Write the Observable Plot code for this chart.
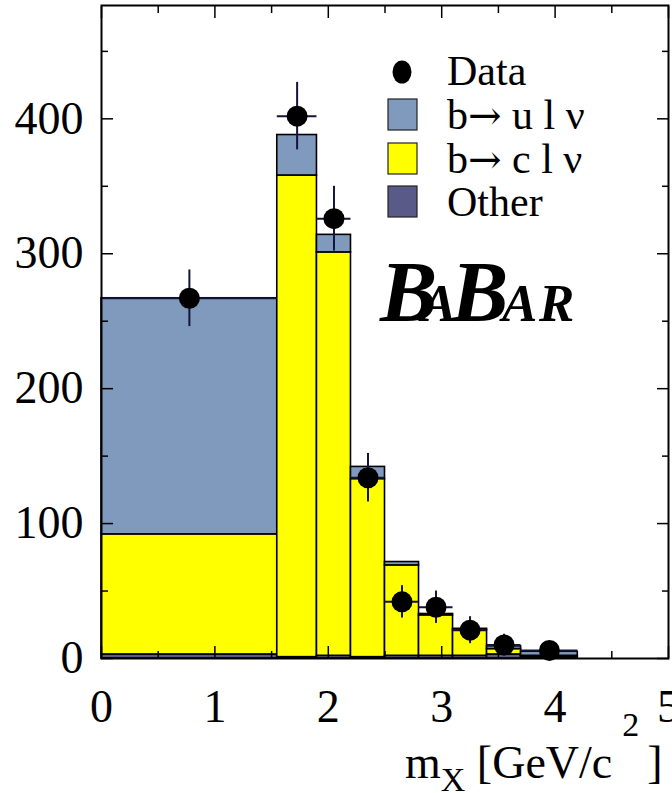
<!DOCTYPE html>
<html><head><meta charset="utf-8">
<script src="https://cdn.jsdelivr.net/npm/d3@7"></script>
<script src="https://cdn.jsdelivr.net/npm/@observablehq/plot@0.6"></script>
<style>html,body{margin:0;padding:0;background:#fff;overflow:hidden} svg{display:block}</style>
</head><body><div id="chart"></div>
<script>
// bins of m_X [GeV/c^2]
const binLo = [0, 1.55, 1.9, 2.2, 2.5, 2.8, 3.1, 3.4, 3.7];
const binHi = [1.55, 1.9, 2.2, 2.5, 2.8, 3.1, 3.4, 3.7, 4.2];
// stacked components (bottom to top)
const other = [3, 1, 2, 1, 2, 2, 2, 3, 1];
const bToC  = [89, 357, 299, 132, 67, 30, 19, 4, 1];
const bToU  = [175, 30, 13, 9, 2.5, 1, 1, 2, 3];
// data points
const dataY   = [267, 402, 326, 134, 42, 38, 21, 10, 6];
const dataErr = [21, 25, 24, 18, 12, 12, 10, 8, 6];
// ticks
const xTicks = [0, 1, 2, 3, 4, 5];
const xMinor = [0.5, 1.5, 2.5, 3.5, 4.5];
const yTicks = [0, 100, 200, 300, 400];
const yMinor = [50, 150, 250, 350, 450];
const seriesNames = ["Other", "b\u2192 c l \u03bd", "b\u2192 u l \u03bd"];
const seriesColors = ["#5a5a88", "#ffff00", "#7f9abc"];
const legendOrder = ["Data", "b\u2192 u l \u03bd", "b\u2192 c l \u03bd", "Other"];

const comps = [other, bToC, bToU];
const rects = [];
binLo.forEach((lo, i) => {
  let cum = 0;
  comps.forEach((arr, k) => {
    rects.push({x1: lo, x2: binHi[i], y1: cum, y2: cum + arr[i], s: seriesNames[k]});
    cum += arr[i];
  });
});
const points = binLo.map((lo, i) => ({x: (lo + binHi[i]) / 2, x1: lo, x2: binHi[i], y: dataY[i], e: dataErr[i]}));

const serif = "'Liberation Serif', 'Times New Roman', serif";
const noText = () => "";
const intFmt = d3.format("d");
const plot = Plot.plot({
  width: 672, height: 793,
  marginLeft: 101, marginRight: 4, marginTop: 5, marginBottom: 135,
  style: {fontFamily: serif, background: "white"},
  x: {domain: [0, 5]},
  y: {domain: [0, 484]},
  color: {domain: seriesNames, range: seriesColors},
  marks: [
    Plot.rect(rects, {x1: "x1", x2: "x2", y1: "y1", y2: "y2", fill: "s", stroke: "black", strokeWidth: 1.6}),
    Plot.ruleX(points, {x: "x", y1: d => d.y - d.e, y2: d => d.y + d.e, stroke: "#14143a", strokeWidth: 2}),
    Plot.ruleY(points, {y: "y", x1: "x1", x2: "x2", stroke: "#14143a", strokeWidth: 2}),
    Plot.dot(points, {x: "x", y: "y", r: 10.5, fill: "black"}),
    Plot.frame({stroke: "black", strokeWidth: 2}),
    Plot.axisY({ticks: yTicks, tickSize: 0, tickPadding: 18, fontSize: 46, tickFormat: intFmt, label: null}),
    Plot.axisY({ticks: yTicks, tickSize: -12, tickFormat: noText, label: null, strokeWidth: 1.5}),
    Plot.axisY({ticks: yMinor, tickSize: -7, tickFormat: noText, label: null, strokeWidth: 1.5}),
    Plot.axisY({anchor: "right", ticks: yTicks, tickSize: -12, tickFormat: noText, label: null, strokeWidth: 1.5}),
    Plot.axisY({anchor: "right", ticks: yMinor, tickSize: -7, tickFormat: noText, label: null, strokeWidth: 1.5}),
    Plot.axisX({ticks: xTicks, tickSize: 0, tickPadding: 31, fontSize: 46, tickFormat: intFmt, label: null}),
    Plot.axisX({ticks: xTicks, tickSize: -12, tickFormat: noText, label: null, strokeWidth: 1.5}),
    Plot.axisX({ticks: xMinor, tickSize: -7, tickFormat: noText, label: null, strokeWidth: 1.5}),
    Plot.axisX({anchor: "top", ticks: xTicks, tickSize: -12, tickFormat: noText, label: null, strokeWidth: 1.5}),
    Plot.axisX({anchor: "top", ticks: xMinor, tickSize: -7, tickFormat: noText, label: null, strokeWidth: 1.5})
  ]
});
document.getElementById("chart").appendChild(plot);

const svg = d3.select(plot);
// legend
const lg = svg.append("g").attr("font-family", serif).attr("font-size", 42)
  .attr("fill", "black").attr("text-anchor", "start");
const rowBase = [85, 129, 173, 216];
legendOrder.forEach((name, i) => {
  const b = rowBase[i];
  if (name === "Data") {
    lg.append("ellipse").attr("cx", 402).attr("cy", b - 13).attr("rx", 9.5).attr("ry", 11.5).attr("fill", "black");
  } else {
    const c = seriesColors[seriesNames.indexOf(name)];
    lg.append("rect").attr("x", 388).attr("y", b - 30).attr("width", 29).attr("height", 31)
      .attr("fill", c).attr("stroke", "#222").attr("stroke-width", 1.2);
  }
  const t = lg.append("text").attr("x", 447).attr("y", b);
  if (name.includes("\u2192")) {
    const [pre, post] = name.split("\u2192");
    t.append("tspan").text(pre);
    t.append("tspan").attr("font-family", "'DejaVu Serif', serif").attr("font-size", 40).text("\u2192");
    t.append("tspan").text(post);
  } else {
    t.text(name);
  }
});

// BaBar logo
const logo = svg.append("text").attr("y", 321).attr("font-family", serif).attr("text-anchor", "start")
  .attr("font-weight", "bold").attr("font-style", "italic").attr("fill", "black");
[["B", 380, 86], ["A", 421, 53], ["B", 451, 86], ["A", 502, 53], ["R", 539, 53]].forEach(([t, x, fs]) => {
  logo.append("tspan").attr("x", x).attr("font-size", fs).text(t);
});

// axis title
const at = svg.append("text").attr("x", 405).attr("y", 778).attr("font-family", serif)
  .attr("text-anchor", "start").attr("font-size", 46).attr("fill", "black");
at.append("tspan").text("m");
at.append("tspan").attr("font-size", 34).attr("dy", 13).text("X");
at.append("tspan").attr("dy", -13).text(" [GeV/c");
at.append("tspan").attr("font-size", 34).attr("dx", 10).attr("dy", -42).text("2");
at.append("tspan").attr("dx", 8).attr("dy", 42).text("]");
</script>
</body></html>
